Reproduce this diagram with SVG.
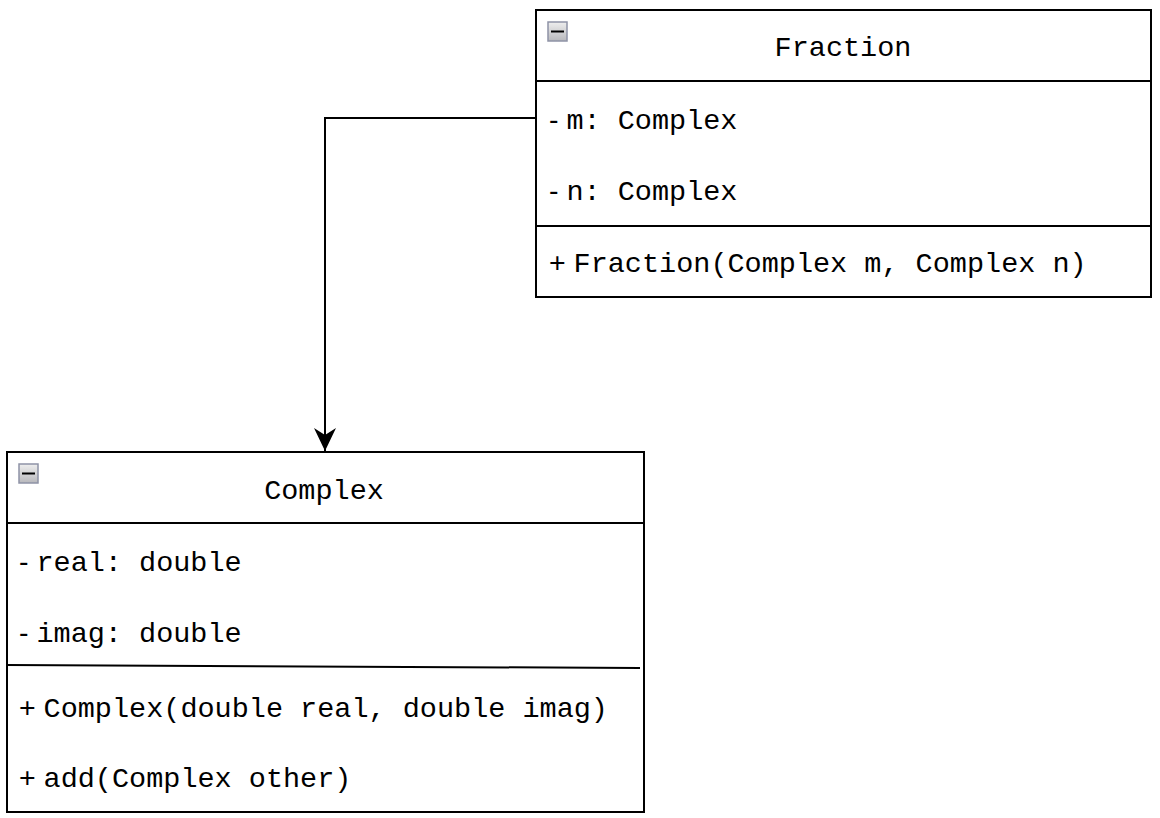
<svg xmlns="http://www.w3.org/2000/svg" width="1160" height="818" viewBox="0 0 1160 818">
<style>
.box{fill:#ffffff;stroke:#000000;stroke-width:2}
.div{stroke:#000000;stroke-width:2;fill:none}
.t{font-family:"Liberation Mono","DejaVu Sans Mono",monospace;font-size:28.5px;fill:#000000}
.s{font-family:"Liberation Sans",Arial,sans-serif}
.title{text-anchor:middle}
.edge{stroke:#000000;stroke-width:2;fill:none}
.icon{fill:url(#ig);stroke:#8e93a6;stroke-width:1.5}
</style>
<defs>
<linearGradient id="ig" x1="0" y1="0" x2="0" y2="1">
<stop offset="0" stop-color="#eeeeee"/>
<stop offset="1" stop-color="#b8b8bc"/>
</linearGradient>
<marker id="arr" viewBox="0 0 24 24" markerWidth="24" markerHeight="24" refX="23" refY="12" orient="auto" markerUnits="userSpaceOnUse">
<path d="M23,12 L0,1 L7,12 L0,23 Z" fill="#000000"/>
</marker>
</defs>
<g id="connectors">
<path class="edge" d="M536,118 L325,118 L325,451" marker-end="url(#arr)"/>
</g>
<g id="fraction">
<rect class="box" x="536" y="10" width="615" height="287"/>
<rect class="icon" x="548" y="22" width="19" height="19"/>
<line x1="551" y1="31.5" x2="564" y2="31.5" stroke="#000" stroke-width="2"/>
<line class="div" x1="536" y1="81" x2="1151" y2="81"/>
<line class="div" x1="536" y1="226" x2="1151" y2="226"/>
<text class="t title" x="843" y="56">Fraction</text>
<text class="t" x="549" y="129"><tspan class="s">- </tspan>m: Complex</text>
<text class="t" x="549" y="200"><tspan class="s">- </tspan>n: Complex</text>
<text class="t" x="549" y="272"><tspan class="s">+ </tspan>Fraction(Complex m, Complex n)</text>
</g>
<g id="complex">
<rect class="box" x="7" y="452" width="637" height="360"/>
<rect class="icon" x="19" y="464" width="19" height="19"/>
<line x1="22" y1="473.5" x2="35" y2="473.5" stroke="#000" stroke-width="2"/>
<line class="div" x1="7" y1="523" x2="644" y2="523"/>
<line class="div" x1="7" y1="665" x2="640" y2="668"/>
<text class="t title" x="324" y="499">Complex</text>
<text class="t" x="19" y="571"><tspan class="s">- </tspan>real: double</text>
<text class="t" x="19" y="642"><tspan class="s">- </tspan>imag: double</text>
<text class="t" x="19" y="717"><tspan class="s">+ </tspan>Complex(double real, double imag)</text>
<text class="t" x="19" y="787"><tspan class="s">+ </tspan>add(Complex other)</text>
</g>
</svg>
